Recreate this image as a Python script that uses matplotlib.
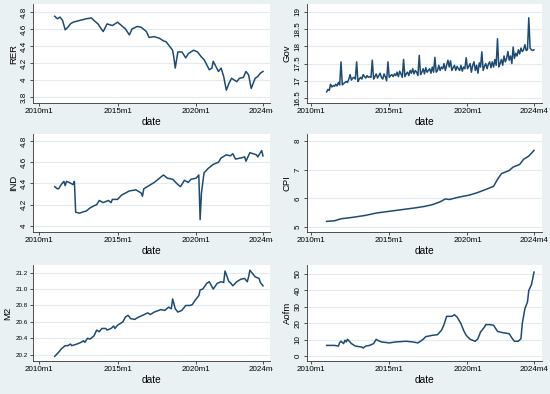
#!/usr/bin/env python3
#
#   plot.py  -  six monthly series, 2011m1 .. 2024m4, in a 3x2 grid
#   (Stata-like "graph combine" look)
#

import matplotlib
matplotlib.use('Agg')
import matplotlib.pyplot as plt
from matplotlib.transforms import Bbox, TransformedBbox

# month offsets counted from 2011m1 (= 0); Stata %tm value is 612 + offset
START_TM = 612

rer_month = [0, 2, 4, 6, 8, 10, 12, 14, 19, 24, 28, 30, 33, 36, 37, 40, 44, 48, 51, 54,
             57, 59, 63, 66, 70, 72, 76, 80, 83, 85, 88, 90, 91, 92, 94, 97, 98, 100, 102, 106,
             109, 112, 114, 116, 118, 120, 121, 123, 125, 127, 129, 131, 133, 135, 137, 139,
             141, 144, 146, 148, 150, 153, 155, 157, 159]
rer_value = [4.75, 4.72, 4.74, 4.70, 4.59, 4.62, 4.66, 4.68, 4.70, 4.72, 4.73, 4.70, 4.66,
             4.59, 4.57, 4.66, 4.64, 4.68, 4.64, 4.60, 4.53, 4.60, 4.63, 4.62, 4.57, 4.50,
             4.51, 4.49, 4.46, 4.45, 4.39, 4.35, 4.26, 4.14, 4.33, 4.33, 4.31, 4.26, 4.31,
             4.35, 4.33, 4.27, 4.24, 4.18, 4.12, 4.14, 4.22, 4.16, 4.10, 4.14, 4.04, 3.88,
             3.96, 4.02, 4.00, 3.98, 4.02, 4.03, 4.10, 4.06, 3.90, 4.02, 4.04, 4.08, 4.10]

# Gov is read month by month (one row per year)
gov_value = [
    16.68, 16.75, 16.72, 16.90, 16.82, 16.86, 16.84, 16.90, 16.85, 16.95, 16.88, 17.55,
    16.88, 16.92, 16.95, 16.98, 16.95, 17.05, 17.18, 17.02, 17.08, 17.10, 17.05, 17.55,
    16.98, 17.05, 17.10, 17.05, 17.18, 17.12, 17.08, 17.15, 17.10, 17.12, 17.10, 17.60,
    17.05, 17.12, 17.20, 17.08, 17.15, 17.22, 17.10, 17.05, 17.20, 17.12, 17.00, 17.55,
    17.10, 17.15, 17.18, 17.12, 17.20, 17.15, 17.25, 17.12, 17.28, 17.20, 17.10, 17.62,
    17.12, 17.20, 17.25, 17.15, 17.30, 17.22, 17.35, 17.20, 17.30, 17.25, 17.15, 17.74,
    17.18, 17.25, 17.35, 17.20, 17.38, 17.25, 17.30, 17.35, 17.22, 17.40, 17.25, 17.68,
    17.25, 17.30, 17.45, 17.30, 17.40, 17.35, 17.50, 17.30, 17.45, 17.60, 17.40, 17.58,
    17.30, 17.38, 17.45, 17.30, 17.42, 17.35, 17.30, 17.45, 17.28, 17.40, 17.35, 17.67,
    17.35, 17.42, 17.50, 17.25, 17.45, 17.55, 17.30, 17.45, 17.22, 17.52, 17.40, 17.84,
    17.30, 17.42, 17.50, 17.35, 17.48, 17.55, 17.38, 17.55, 17.40, 17.62, 17.45, 18.22,
    17.40, 17.50, 17.62, 17.45, 17.72, 17.55, 17.65, 17.85, 17.60, 17.72, 17.50, 17.98,
    17.65, 17.80, 17.72, 17.90, 17.78, 17.95, 17.85, 17.90, 18.05, 17.88, 17.90, 18.83,
    17.95, 17.90, 17.88, 17.90,
]
gov_month = list(range(len(gov_value)))

ind_month = [0, 2, 3, 5, 7, 8, 9, 11, 14, 15, 16, 19, 21, 24, 27, 30, 32, 34, 37, 41, 43,
             44, 48, 51, 54, 57, 62, 66, 67, 68, 72, 76, 80, 83, 86, 90, 94, 96, 99, 102,
             104, 108, 110, 111, 112, 114, 117, 121, 125, 127, 131, 134, 136, 138, 142, 145,
             146, 149, 154, 155, 158, 159]
ind_value = [4.37, 4.35, 4.35, 4.39, 4.42, 4.38, 4.42, 4.41, 4.39, 4.42, 4.13, 4.12, 4.13,
             4.14, 4.17, 4.19, 4.20, 4.24, 4.22, 4.24, 4.22, 4.25, 4.25, 4.29, 4.31, 4.33,
             4.34, 4.31, 4.28, 4.35, 4.38, 4.41, 4.45, 4.48, 4.45, 4.44, 4.39, 4.37, 4.43,
             4.41, 4.44, 4.45, 4.48, 4.06, 4.31, 4.50, 4.54, 4.58, 4.60, 4.64, 4.67, 4.66,
             4.68, 4.63, 4.64, 4.65, 4.61, 4.69, 4.67, 4.65, 4.71, 4.66]

cpi_month = [0, 6, 11, 20, 30, 38, 48, 58, 68, 75, 81, 87, 91, 94, 101, 109, 115, 122, 128,
             131, 134, 140, 143, 148, 151, 155, 159]
cpi_value = [5.20, 5.22, 5.29, 5.34, 5.41, 5.49, 5.55, 5.61, 5.67, 5.72, 5.78, 5.88, 5.98,
             5.96, 6.04, 6.11, 6.19, 6.31, 6.42, 6.66, 6.86, 6.97, 7.09, 7.18, 7.36, 7.47, 7.67]

m2_month = [0, 3, 5, 8, 10, 12, 13, 17, 20, 22, 23, 25, 27, 30, 32, 34, 36, 39, 40, 43, 45,
            46, 48, 52, 54, 56, 58, 61, 63, 67, 71, 73, 76, 81, 84, 87, 89, 90, 92, 94, 97,
            100, 103, 105, 107, 110, 111, 113, 116, 118, 121, 124, 127, 129, 130, 133, 134,
            136, 139, 142, 145, 147, 148, 149, 153, 156, 157, 159]
m2_value = [20.18, 20.23, 20.27, 20.31, 20.31, 20.33, 20.31, 20.33, 20.35, 20.37, 20.35,
            20.40, 20.39, 20.43, 20.50, 20.48, 20.52, 20.52, 20.50, 20.52, 20.55, 20.52,
            20.56, 20.60, 20.66, 20.68, 20.64, 20.63, 20.65, 20.68, 20.71, 20.69, 20.72,
            20.75, 20.74, 20.78, 20.76, 20.88, 20.76, 20.72, 20.74, 20.80, 20.80, 20.81,
            20.86, 20.92, 20.99, 21.00, 21.07, 21.09, 21.00, 21.07, 21.09, 21.08, 21.22,
            21.09, 21.08, 21.04, 21.09, 21.12, 21.13, 21.09, 21.15, 21.23, 21.15, 21.13,
            21.08, 21.04]

aofm_month = [0, 6, 9, 10, 11, 13, 14, 15, 16, 19, 22, 27, 28, 29, 30, 33, 36, 38, 39, 42,
              46, 48, 53, 61, 66, 70, 74, 76, 81, 85, 88, 90, 92, 96, 98, 100, 103, 105,
              107, 110, 114, 116, 118, 121, 122, 125, 128, 131, 135, 140, 142, 144, 147,
              149, 150, 152, 154, 155, 157, 158, 159]
aofm_value = [6.6, 6.6, 6.2, 8.3, 9.1, 7.7, 9.7, 8.7, 10.3, 7.7, 6.2, 5.6, 5.0, 5.6, 6.2,
              6.6, 7.7, 10.3, 9.7, 8.7, 8.3, 8.1, 8.7, 9.1, 8.7, 8.1, 10.3, 11.9, 12.7, 13.1,
              15.7, 19.2, 24.2, 24.2, 25.2, 23.8, 19.8, 15.7, 12.7, 10.3, 9.1, 10.7, 14.7,
              17.7, 19.2, 19.2, 18.8, 15.1, 14.3, 13.7, 11.1, 9.1, 9.1, 10.7, 19.8, 28.8,
              32.9, 39.9, 43.3, 47.0, 51.0]

xtick_tm = [600, 660, 720, 771]
xtick_labels = ['2010m1', '2015m1', '2020m1', '2024m4']

BG = '#E9F1F3'
GRID = '#E3EBEE'
LINE = '#1E4B73'
W, H = 550, 394

plt.rcParams['font.family'] = ['Liberation Sans', 'DejaVu Sans']

fig = plt.figure(figsize=(W / 100, H / 100), dpi=100)
fig.patch.set_facecolor(BG)


def Panel(box, xlim, months, values, ylabel, yticks, ylabels, ylim, flat_ylabels=False):
    x0, y0, x1, y1 = box   # pixel box of the plot region (left, top, right, bottom)
    ax = fig.add_axes([x0 / W, 1 - y1 / H, (x1 - x0) / W, (y1 - y0) / H])
    ax.set_facecolor('white')
    ax.plot([START_TM + m for m in months], values, color=LINE, lw=1.1)
    ax.set_xlim(*xlim)
    ax.set_ylim(*ylim)
    ax.set_xticks(xtick_tm)
    ax.set_xticklabels(xtick_labels, fontsize=5.8)
    ax.set_yticks(yticks)
    if flat_ylabels:
        ax.set_yticklabels(ylabels, fontsize=4.5)
    else:
        ax.set_yticklabels(ylabels, fontsize=5.8, rotation=90, va='center')
    ax.grid(axis='y', color=GRID, lw=0.8)
    ax.set_axisbelow(True)
    for s in ('top', 'right'):
        ax.spines[s].set_visible(False)
    for s in ('left', 'bottom'):
        ax.spines[s].set_color('#333333')
        ax.spines[s].set_linewidth(0.6)
    ax.tick_params(length=2.4, width=0.6, color='#333333', pad=1.5)
    ax.set_xlabel('date', fontsize=7.3, labelpad=1)
    ax.set_ylabel(ylabel, fontsize=6.8, labelpad=2)
    return ax


LEFT = (33, 270)
RIGHT = (307, 542)
ROWS = [(4, 103), (134, 232), (265, 361)]
XL_LEFT = (600 - 6 / 1.31, 771 + 7 / 1.31)
XL_RIGHT = (600 - 4 / 1.305, 771 + 8 / 1.305)

left_axes = []
left_axes.append(Panel((LEFT[0], ROWS[0][0], LEFT[1], ROWS[0][1]), XL_LEFT, rer_month, rer_value, 'RER',
                       [3.8, 4, 4.2, 4.4, 4.6, 4.8], ['3.8', '4', '4.2', '4.4', '4.6', '4.8'], (3.729, 4.894)))
Panel((RIGHT[0], ROWS[0][0], RIGHT[1], ROWS[0][1]), XL_RIGHT, gov_month, gov_value, 'Gov',
      [16.5, 17, 17.5, 18, 18.5, 19], ['16.5', '17', '17.5', '18', '18.5', '19'], (16.355, 19.23))
left_axes.append(Panel((LEFT[0], ROWS[1][0], LEFT[1], ROWS[1][1]), XL_LEFT, ind_month, ind_value, 'IND',
                       [4, 4.2, 4.4, 4.6, 4.8], ['4', '4.2', '4.4', '4.6', '4.8'], (3.943, 4.866)))
Panel((RIGHT[0], ROWS[1][0], RIGHT[1], ROWS[1][1]), XL_RIGHT, cpi_month, cpi_value, 'CPI',
      [5, 6, 7, 8], ['5', '6', '7', '8'], (4.83, 8.24))
left_axes.append(Panel((LEFT[0], ROWS[2][0], LEFT[1], ROWS[2][1]), XL_LEFT, m2_month, m2_value, 'M2',
                       [20.2, 20.4, 20.6, 20.8, 21.0, 21.2], ['20.2', '20.4', '20.6', '20.8', '21.0', '21.2'],
                       (20.123, 21.294), flat_ylabels=True))
Panel((RIGHT[0], ROWS[2][0], RIGHT[1], ROWS[2][1]), XL_RIGHT, aofm_month, aofm_value, 'Aofm',
      [0, 10, 20, 30, 40, 50], ['0', '10', '20', '30', '40', '50'], (-2.85, 55.3))

# the left column's last date label runs into the next panel and is cut there
clip = TransformedBbox(Bbox.from_extents(0, 0, (LEFT[1] + 3) / W, 1), fig.transFigure)
for ax in left_axes:
    for lbl in ax.get_xticklabels():
        lbl.set_clip_box(clip)
        lbl.set_clip_on(True)

fig.savefig('out.png', dpi=100, facecolor=BG)
